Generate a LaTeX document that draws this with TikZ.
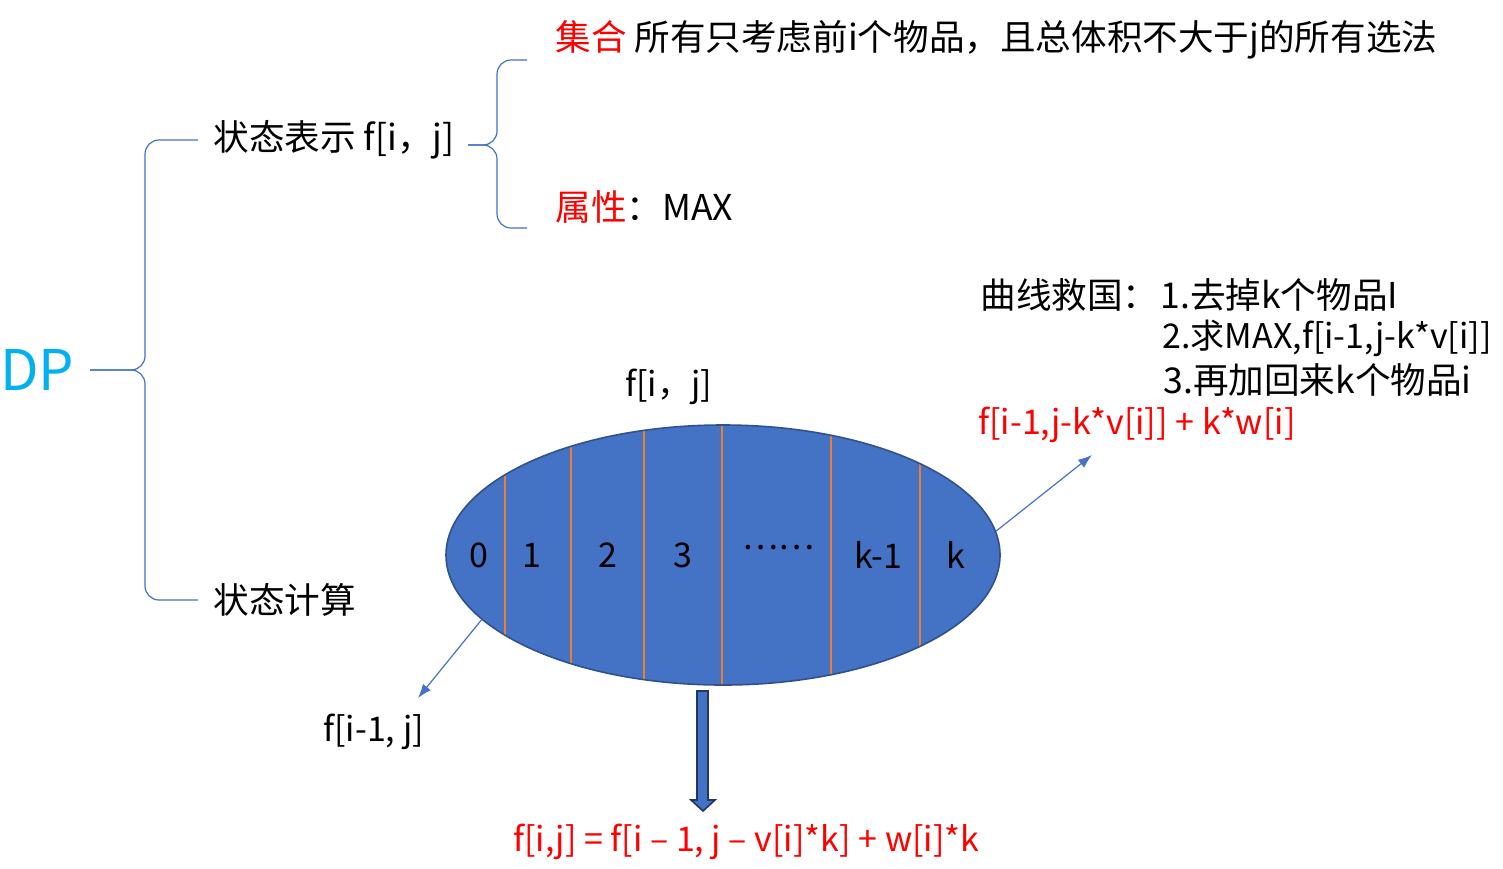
\documentclass[tikz,border=0pt]{standalone}
\usepackage{fontspec}
\setmainfont{Noto Sans CJK SC}
\usetikzlibrary{shapes.geometric,arrows.meta,positioning}
\definecolor{dpcyan}{RGB}{0,176,240}
\definecolor{msblue}{RGB}{68,114,196}
\definecolor{msedge}{RGB}{47,82,143}
\definecolor{msdark}{RGB}{31,56,100}
\definecolor{msorange}{RGB}{237,125,49}
\definecolor{msred}{RGB}{255,0,0}
\tikzset{
  txt/.style={anchor=west,inner sep=0pt,font=\fontsize{17}{20}\selectfont},
  cjk/.style={txt,font=\fontsize{17.8}{21}\selectfont},
  hot/.style={txt,text=msred},
  num/.style={inner sep=0pt,font=\fontsize{17}{20}\selectfont},
  brace/.style={draw=msblue,line width=0.6pt,rounded corners=7pt},
  cut/.style={draw=msorange,line width=0.6pt},
  thin arrow/.style={draw=msblue,line width=0.6pt,-{Latex[length=7pt,width=5pt]}},
}
\begin{document}
\begin{tikzpicture}[x=0.5pt,y=-0.5pt]
\useasboundingbox (0,0) rectangle (1503,868);
% the DP tree
\node[txt,text=dpcyan,font=\fontsize{28}{32}\selectfont] (dp) at (0,370) {DP};
\node[cjk] (rep) at (213,140) {状态表示 f[i，j]};
\node[cjk] (calc) at (213,600) {状态计算};
\coordinate (dptip) at (90,370);
\draw[brace] (198,140) -- (145,140) -- (145,370) -- (dptip);
\draw[brace] (dptip) -- (145,370) -- (145,600) -- (198,600);
% set and property
\node[cjk] (set) at (555,40) {\textcolor{msred}{集合} 所有只考虑前i个物品，且总体积不大于j的所有选法};
\node[cjk] (prop) at (555,207) {\textcolor{msred}{属性}：MAX};
\coordinate (reptip) at (468,145);
\draw[brace] (527,60) -- (497,60) -- (497,145) -- (reptip);
\draw[brace] (reptip) -- (497,145) -- (497,228) -- (527,228);
% the split of the set
\node[txt] (fij) at (625,387) {f[i，j]};
\node[ellipse,draw=msedge,fill=msblue,line width=0.8pt,minimum width=277pt,minimum height=130pt,inner sep=0pt] (choices) at (723,555) {};
\begin{scope}
  \clip (723,555) ellipse [x radius=276, y radius=129];
  \foreach \cx in {505,571,644,722,831,920}
    \draw[cut] (\cx,420) -- (\cx,690);
\end{scope}
\foreach \lab/\lx in {0/479,1/532,2/608,3/683,k-1/878,k/956}
  \node[num] (c\lx) at (\lx,555) {\lab};
\node[num] (dots) at (778,548) {……};
% left part: k = 0
\node[txt] (prev) at (323,732) {f[i-1, j]};
\coordinate (prevtip) at (418,698);
\draw[thin arrow] (choices.195) -- (prevtip);
% right part: k items
\node[cjk] (trick) at (980,295) {曲线救国：};
\node[cjk] (step1) at (1160,295) {1.去掉k个物品I};
\node[txt] (step2) at (1162,338) {2.求MAX,f[i-1,j-k*v[i]]};
\node[cjk] (step3) at (1163,380) {3.再加回来k个物品i};
\node[hot] (kpart) at (978,425) {f[i-1,j-k*v[i]] + k*w[i]};
\coordinate (ktip) at (1092,455);
\draw[thin arrow] (choices.5) -- (ktip);
% result
\node[hot] (eq) at (513,842) {f[i,j] = f[i – 1, j – v[i]*k] + w[i]*k};
\draw[fill=msblue,draw=msdark,line width=0.8pt] (697,691) -- (708,691) -- (708,800) -- (715,800)
  -- (703,811) -- (691,800) -- (697,800) -- cycle;
\end{tikzpicture}
\end{document}
